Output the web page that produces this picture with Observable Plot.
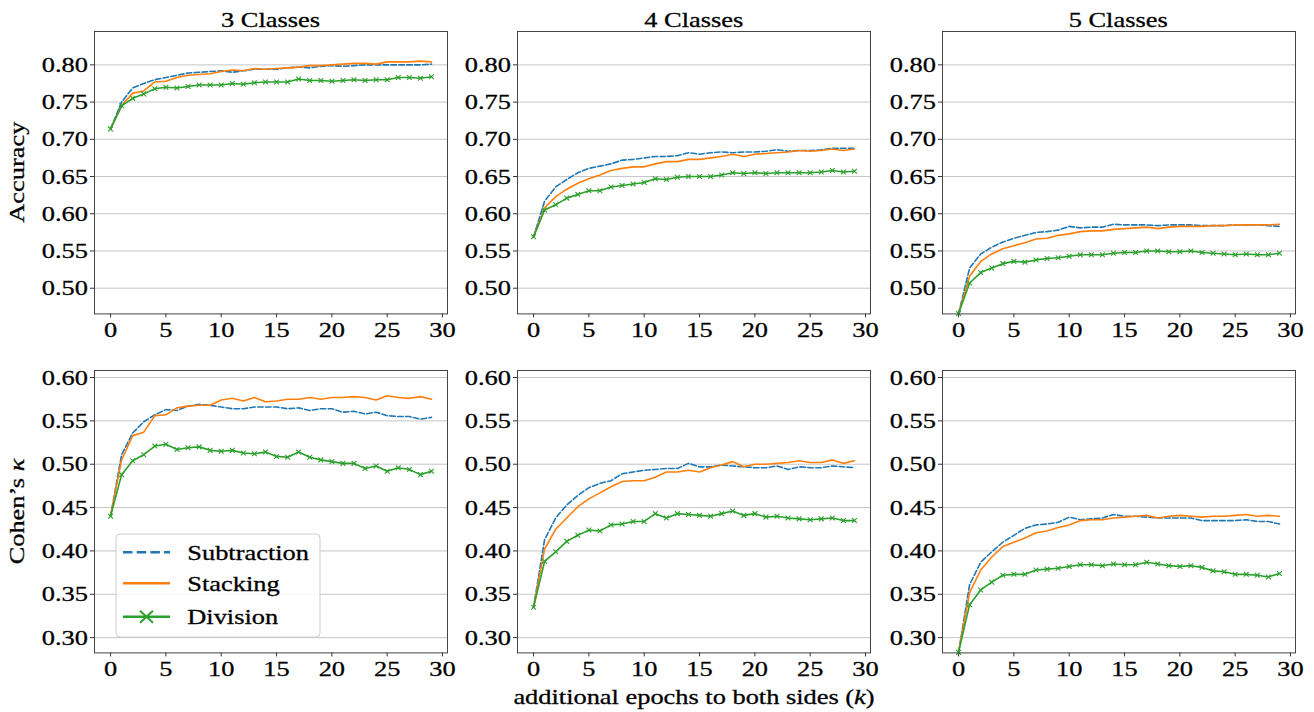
<!DOCTYPE html>
<html>
<head>
<meta charset="utf-8">
<script src="https://cdn.jsdelivr.net/npm/d3@7"></script>
<script src="https://cdn.jsdelivr.net/npm/@observablehq/plot@0.6"></script>
<style>
html, body { margin: 0; padding: 0; background: #fff; }
#fig { position: relative; width: 1314px; height: 712px; overflow: hidden; background: #fff; }
#fig .panel { position: absolute; }
#overlay { position: absolute; left: 0; top: 0; pointer-events: none; }
#fig text { stroke: #000; stroke-width: 0.3px; }
</style>
</head>
<body>
<div id="fig"></div>
<script>
// ---------------- data ----------------
const kValues = [0,1,2,3,4,5,6,7,8,9,10,11,12,13,14,15,16,17,18,19,20,21,22,23,24,25,26,27,28,29];
const methods = ["Subtraction", "Stacking", "Division"];
const classTitles = ["3 Classes", "4 Classes", "5 Classes"];
const rowLabels = ["Accuracy", "Cohen’s"];
const xTicks = [0, 5, 10, 15, 20, 25, 30];
const accTicks = [0.50, 0.55, 0.60, 0.65, 0.70, 0.75, 0.80];
const kappaTicks = [0.30, 0.35, 0.40, 0.45, 0.50, 0.55, 0.60];

// Accuracy
const acc3Sub   = [0.714,0.750,0.769,0.775,0.780,0.783,0.786,0.789,0.790,0.791,0.792,0.790,0.792,0.794,0.794,0.794,0.796,0.797,0.796,0.798,0.799,0.798,0.799,0.800,0.800,0.800,0.800,0.800,0.800,0.801];
const acc3Stack = [0.714,0.745,0.762,0.765,0.777,0.778,0.783,0.786,0.787,0.788,0.791,0.793,0.792,0.795,0.794,0.795,0.796,0.797,0.799,0.799,0.800,0.801,0.802,0.802,0.801,0.804,0.804,0.804,0.805,0.804];
const acc3Div   = [0.714,0.745,0.755,0.761,0.768,0.770,0.769,0.771,0.773,0.773,0.773,0.775,0.774,0.776,0.777,0.777,0.777,0.781,0.779,0.779,0.778,0.779,0.780,0.779,0.780,0.780,0.783,0.783,0.782,0.784];

const acc4Sub   = [0.569,0.617,0.636,0.646,0.655,0.661,0.664,0.667,0.672,0.673,0.675,0.677,0.677,0.678,0.682,0.680,0.682,0.683,0.682,0.683,0.683,0.684,0.686,0.684,0.685,0.685,0.686,0.688,0.688,0.688];
const acc4Stack = [0.569,0.608,0.623,0.633,0.641,0.647,0.652,0.658,0.661,0.663,0.663,0.667,0.670,0.670,0.673,0.673,0.675,0.677,0.680,0.677,0.680,0.681,0.682,0.683,0.685,0.684,0.685,0.687,0.685,0.687];
const acc4Div   = [0.569,0.605,0.612,0.621,0.626,0.631,0.631,0.636,0.638,0.640,0.642,0.647,0.646,0.649,0.650,0.650,0.650,0.652,0.655,0.654,0.655,0.654,0.655,0.655,0.655,0.655,0.656,0.658,0.656,0.657];

const acc5Sub   = [0.466,0.527,0.546,0.555,0.562,0.567,0.571,0.575,0.576,0.578,0.583,0.581,0.582,0.582,0.586,0.585,0.585,0.585,0.584,0.585,0.585,0.585,0.584,0.584,0.584,0.585,0.585,0.585,0.584,0.583];
const acc5Stack = [0.466,0.516,0.536,0.546,0.553,0.557,0.561,0.566,0.567,0.571,0.573,0.576,0.577,0.577,0.579,0.580,0.581,0.582,0.580,0.582,0.583,0.583,0.583,0.584,0.584,0.585,0.585,0.585,0.585,0.586];
const acc5Div   = [0.466,0.507,0.521,0.527,0.533,0.536,0.535,0.538,0.540,0.541,0.543,0.545,0.545,0.545,0.547,0.548,0.548,0.550,0.550,0.549,0.549,0.550,0.548,0.547,0.546,0.545,0.546,0.545,0.545,0.547];

// Cohen's kappa
const kap3Sub   = [0.440,0.511,0.536,0.549,0.557,0.563,0.562,0.567,0.569,0.568,0.566,0.564,0.564,0.566,0.566,0.566,0.564,0.565,0.562,0.564,0.564,0.560,0.561,0.558,0.560,0.556,0.555,0.555,0.552,0.554];
const kap3Stack = [0.440,0.505,0.533,0.537,0.556,0.557,0.565,0.567,0.568,0.568,0.574,0.576,0.573,0.577,0.572,0.573,0.575,0.575,0.577,0.575,0.577,0.577,0.578,0.577,0.574,0.579,0.577,0.576,0.578,0.575];
const kap3Div   = [0.440,0.488,0.504,0.511,0.521,0.523,0.517,0.519,0.520,0.516,0.515,0.516,0.513,0.512,0.514,0.509,0.508,0.514,0.508,0.505,0.503,0.501,0.501,0.495,0.498,0.492,0.496,0.494,0.488,0.492];

const kap4Sub   = [0.335,0.413,0.438,0.453,0.464,0.473,0.478,0.481,0.489,0.491,0.493,0.494,0.495,0.495,0.501,0.497,0.497,0.499,0.498,0.497,0.496,0.496,0.498,0.494,0.497,0.496,0.496,0.498,0.497,0.496];
const kap4Stack = [0.335,0.402,0.425,0.438,0.451,0.460,0.467,0.474,0.480,0.481,0.481,0.485,0.491,0.491,0.493,0.491,0.496,0.499,0.503,0.497,0.500,0.500,0.501,0.502,0.504,0.502,0.502,0.505,0.501,0.504];
const kap4Div   = [0.335,0.388,0.399,0.411,0.418,0.424,0.423,0.430,0.431,0.434,0.434,0.443,0.438,0.443,0.442,0.441,0.440,0.443,0.446,0.441,0.443,0.439,0.440,0.438,0.437,0.436,0.437,0.438,0.435,0.435];

const kap5Sub   = [0.283,0.361,0.387,0.399,0.410,0.418,0.426,0.430,0.431,0.433,0.439,0.436,0.437,0.438,0.442,0.440,0.440,0.439,0.438,0.438,0.438,0.438,0.435,0.435,0.435,0.435,0.436,0.434,0.434,0.431];
const kap5Stack = [0.283,0.352,0.378,0.393,0.405,0.410,0.415,0.421,0.423,0.427,0.430,0.435,0.436,0.436,0.438,0.439,0.440,0.441,0.438,0.440,0.441,0.440,0.439,0.440,0.440,0.441,0.442,0.440,0.441,0.440];
const kap5Div   = [0.283,0.338,0.355,0.364,0.372,0.373,0.373,0.378,0.379,0.380,0.382,0.384,0.384,0.383,0.385,0.384,0.384,0.387,0.385,0.383,0.382,0.383,0.381,0.377,0.376,0.373,0.373,0.372,0.370,0.374];

// ---------------- style / layout ----------------
const FONT = '"Liberation Serif","Times New Roman",Times,serif';
const FS = 22;
const STRETCH = 1.2;
const colors = ["#1f77b4", "#ff7f0e", "#2ca02c"];
const colLeft = [94, 517.3, 941.7];
const frameW = 353;
const rowTop = [31, 370.3];
const frameH = 282.4;
const ML = 60, MR = 10, MT = 8, MB = 40;
const xDomain = [-1.45, 30.45];
const yDomains = [[0.4655, 0.8448], [0.2824, 0.6081]];
const yTicksByRow = [accTicks, kappaTicks];

const panels = [
  {row: 0, col: 0, series: [acc3Sub, acc3Stack, acc3Div]},
  {row: 0, col: 1, series: [acc4Sub, acc4Stack, acc4Div]},
  {row: 0, col: 2, series: [acc5Sub, acc5Stack, acc5Div]},
  {row: 1, col: 0, series: [kap3Sub, kap3Stack, kap3Div]},
  {row: 1, col: 1, series: [kap4Sub, kap4Stack, kap4Div]},
  {row: 1, col: 2, series: [kap5Sub, kap5Stack, kap5Div]}
];

function stretchTexts(root) {
  root.querySelectorAll("text").forEach(t => {
    const tr = t.getAttribute("transform") || "";
    t.setAttribute("transform", tr + ` scale(${STRETCH},1)`);
  });
}

const fig = document.getElementById("fig");

panels.forEach(p => {
  const rows = methods.map((m, i) => kValues.map((kk, j) => ({k: kk, v: p.series[i][j], method: m})));
  const yTicks = yTicksByRow[p.row];
  const svg = Plot.plot({
    width: ML + frameW + MR,
    height: MT + frameH + MB,
    marginLeft: ML, marginRight: MR, marginTop: MT, marginBottom: MB,
    style: {fontFamily: FONT, fontSize: FS + "px", color: "#000", background: "transparent", overflow: "visible"},
    x: {domain: xDomain, label: null},
    y: {domain: yDomains[p.row], label: null},
    marks: [
      Plot.gridY(yTicks, {stroke: "#c6c6c6", strokeOpacity: 1, strokeWidth: 1}),
      Plot.axisX(xTicks, {tickSize: 4, tickPadding: 3, stroke: "#333", tickFormat: d => String(d), label: null}),
      Plot.axisY(yTicks, {tickSize: 4, tickPadding: 2.5, stroke: "#333", tickFormat: d3.format(".2f"), label: null}),
      Plot.line(rows[0], {x: "k", y: "v", stroke: colors[0], strokeWidth: 1.6, strokeDasharray: "5.5,2.4"}),
      Plot.line(rows[1], {x: "k", y: "v", stroke: colors[1], strokeWidth: 1.6}),
      Plot.line(rows[2], {x: "k", y: "v", stroke: colors[2], strokeWidth: 1.6}),
      Plot.dot(rows[2], {x: "k", y: "v", symbol: "times", r: 2.3, stroke: colors[2], fill: "none", strokeWidth: 1.1}),
      Plot.frame({stroke: "#444", strokeWidth: 1})
    ]
  });
  stretchTexts(svg);
  const div = document.createElement("div");
  div.className = "panel";
  div.style.left = (colLeft[p.col] - ML) + "px";
  div.style.top = (rowTop[p.row] - MT) + "px";
  div.style.width = (ML + frameW + MR) + "px";
  div.style.height = (MT + frameH + MB) + "px";
  div.appendChild(svg);
  fig.appendChild(div);
});

// ---------------- overlay: titles, labels, legend ----------------
const ov = d3.select(fig).append("svg")
  .attr("id", "overlay")
  .attr("width", 1314).attr("height", 712)
  .style("font-family", FONT)
  .style("font-size", FS + "px");

function txt(x, y, anchor, extra = "") {
  return ov.append("text")
    .attr("text-anchor", anchor)
    .attr("fill", "#000")
    .attr("transform", `translate(${x},${y})${extra} scale(${STRETCH},1)`);
}

classTitles.forEach((t, c) => {
  txt(colLeft[c] + frameW / 2, 26.7, "middle").text(t);
});

txt(24, rowTop[0] + frameH / 2, "middle", " rotate(-90)").text(rowLabels[0]);
const kl = txt(24, rowTop[1] + frameH / 2, "middle", " rotate(-90)");
kl.append("tspan").text(rowLabels[1] + " ");
kl.append("tspan").attr("font-style", "italic").text("κ");

const xl = txt(694, 704, "middle");
xl.append("tspan").text("additional epochs to both sides (");
xl.append("tspan").attr("font-style", "italic").text("k");
xl.append("tspan").text(")");

// legend
const lg = ov.append("g");
lg.append("rect")
  .attr("x", 116).attr("y", 534).attr("width", 204).attr("height", 103)
  .attr("rx", 4).attr("ry", 4)
  .attr("fill", "#fff").attr("fill-opacity", 0.85)
  .attr("stroke", "#cccccc").attr("stroke-width", 1);
const legendY = [552.3, 583.3, 616.7];
methods.forEach((m, i) => {
  const y = legendY[i];
  const ln = lg.append("line")
    .attr("x1", 123).attr("x2", 170).attr("y1", y).attr("y2", y)
    .attr("stroke", colors[i]).attr("stroke-width", 2.6);
  if (i === 0) ln.attr("stroke-dasharray", "9.5,4.2");
  if (i === 2) {
    lg.append("path")
      .attr("d", `M${146.5 - 6.5},${y - 6} L${146.5 + 6.5},${y + 6} M${146.5 - 6.5},${y + 6} L${146.5 + 6.5},${y - 6}`)
      .attr("stroke", colors[i]).attr("stroke-width", 2).attr("fill", "none");
  }
  lg.append("text")
    .attr("text-anchor", "start")
    .attr("fill", "#000")
    .attr("transform", `translate(187.3,${y + 7.6}) scale(${STRETCH},1)`)
    .text(m);
});
</script>
</body>
</html>
